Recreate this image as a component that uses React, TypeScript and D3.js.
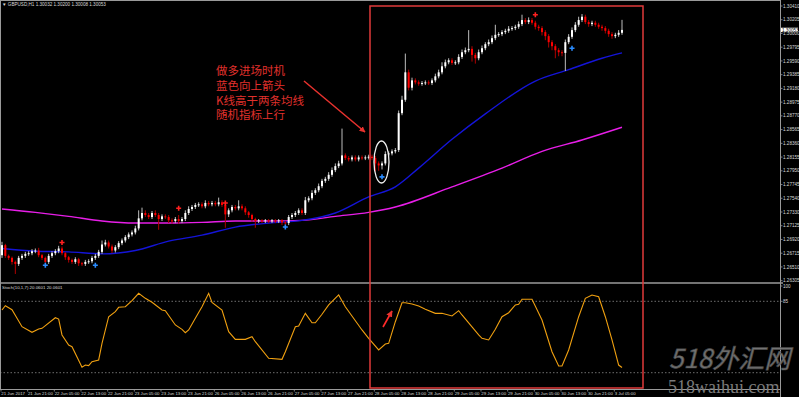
import React from "react";
import * as d3 from "d3";

const W = 799;
const H = 397;

// ---- price data (GBPUSD H1) ----
const firstOpen = 1.2669;
const closes = [
  1.2684, 1.2668, 1.2665, 1.2659, 1.2656, 1.2665, 1.2668, 1.2671, 1.2672, 1.2675,
  1.2676, 1.2669, 1.2665, 1.2659, 1.2668, 1.2672, 1.2675, 1.2679, 1.2672, 1.2666,
  1.2662, 1.2659, 1.2663, 1.2657, 1.2656, 1.2659, 1.266, 1.2665, 1.2668, 1.2674,
  1.2685, 1.2688, 1.2682, 1.2676, 1.2681, 1.2687, 1.2691, 1.2696, 1.27, 1.2703,
  1.2709, 1.2724, 1.2732, 1.2729, 1.2726, 1.2732, 1.2729, 1.2723, 1.2727, 1.2726,
  1.2721, 1.272, 1.2723, 1.272, 1.2723, 1.2732, 1.2738, 1.2741, 1.2744, 1.2745,
  1.2742, 1.2747, 1.2745, 1.2747, 1.2745, 1.2748, 1.2744, 1.273, 1.2736, 1.2741,
  1.2739, 1.2742, 1.2739, 1.2733, 1.2729, 1.2723, 1.272, 1.2721, 1.272, 1.2721,
  1.272, 1.2721, 1.272, 1.2721, 1.2718, 1.2717, 1.2726, 1.2729, 1.2732, 1.2736,
  1.2732, 1.2751, 1.2754, 1.2762, 1.2766, 1.2772, 1.278, 1.2783, 1.2789, 1.2796,
  1.2802, 1.2806, 1.2818, 1.2814, 1.2812, 1.2815, 1.2812, 1.2815, 1.2814, 1.2815,
  1.2816, 1.2814, 1.2806, 1.2803, 1.2806, 1.282, 1.2821, 1.2824, 1.2826, 1.2881,
  1.2901, 1.2942, 1.2919, 1.293, 1.2927, 1.2925, 1.2926, 1.2927, 1.2926, 1.293,
  1.2936, 1.2942, 1.2951, 1.2957, 1.296, 1.2956, 1.2957, 1.2965, 1.2972, 1.2975,
  1.2977, 1.2968, 1.2963, 1.2972, 1.2978, 1.2984, 1.2987, 1.2993, 1.2998, 1.2999,
  1.3002, 1.3004, 1.3007, 1.3008, 1.301, 1.3014, 1.302, 1.3017, 1.302, 1.3016,
  1.301, 1.3008, 1.3002, 1.2996, 1.2987, 1.2981, 1.2975, 1.2972, 1.2971, 1.2987,
  1.2995, 1.3005, 1.3013, 1.302, 1.3025, 1.3017, 1.3014, 1.3016, 1.3013, 1.301,
  1.3008, 1.3004, 1.2999, 1.2996, 1.2998, 1.3001, 1.30053,
];
const upperWickPips = [
  5, 2, 2, 2, 2, 3, 3, 3, 3, 3,
  3, 4, 2, 2, 3, 3, 3, 4, 3, 2,
  2, 2, 3, 2, 2, 3, 3, 3, 3, 3,
  6, 4, 3, 3, 3, 3, 3, 3, 3, 3,
  4, 12, 8, 4, 3, 3, 4, 3, 3, 3,
  3, 3, 3, 6, 3, 4, 4, 3, 3, 3,
  3, 4, 3, 3, 3, 7, 3, 3, 3, 3,
  3, 9, 3, 3, 2, 2, 2, 2, 2, 2,
  2, 2, 2, 2, 2, 2, 3, 3, 3, 3,
  3, 5, 3, 4, 3, 4, 3, 3, 4, 4,
  4, 4, 40, 3, 3, 3, 3, 3, 3, 3,
  3, 3, 3, 3, 3, 4, 3, 3, 3, 4,
  6, 28, 4, 4, 3, 3, 3, 3, 3, 3,
  4, 4, 6, 4, 3, 3, 3, 4, 4, 4,
  28, 4, 3, 4, 4, 3, 4, 4, 15, 3,
  3, 3, 4, 3, 3, 4, 8, 3, 4, 3,
  3, 3, 3, 3, 3, 3, 3, 3, 3, 4,
  4, 4, 4, 5, 4, 3, 3, 3, 3, 3,
  3, 3, 3, 3, 3, 4, 15,
];
const lowerWickPips = [
  4, 3, 3, 4, 15, 3, 3, 3, 3, 3,
  3, 3, 3, 4, 3, 3, 3, 3, 3, 4,
  4, 3, 3, 4, 3, 3, 3, 3, 3, 3,
  3, 3, 3, 4, 3, 3, 3, 3, 3, 3,
  3, 3, 3, 3, 3, 3, 3, 16, 3, 3,
  4, 4, 3, 4, 3, 3, 3, 3, 3, 3,
  3, 3, 3, 3, 3, 3, 3, 20, 4, 3,
  3, 3, 3, 4, 4, 4, 10, 3, 3, 3,
  3, 3, 3, 3, 4, 5, 3, 3, 3, 3,
  3, 3, 3, 3, 3, 3, 3, 3, 3, 3,
  3, 3, 3, 3, 3, 3, 3, 3, 3, 3,
  3, 3, 12, 8, 6, 3, 3, 3, 3, 3,
  3, 3, 4, 4, 3, 3, 3, 3, 3, 3,
  3, 3, 3, 3, 3, 3, 3, 3, 3, 3,
  3, 10, 8, 3, 3, 3, 3, 3, 3, 3,
  3, 3, 3, 3, 3, 3, 3, 3, 3, 3,
  4, 4, 5, 6, 8, 6, 12, 6, 5, 27,
  3, 3, 3, 3, 3, 3, 4, 3, 3, 3,
  4, 4, 4, 4, 3, 3, 3,
];

// ---- moving averages (sampled at bars) ----
const blueMaBars = [0, 10, 20, 30, 40, 50, 60, 70, 80, 90, 100, 110, 118, 125, 135, 145, 160, 170, 180, 186];
const blueMaValues = [1.2679, 1.2675, 1.2674, 1.2671, 1.2676, 1.269, 1.2699, 1.2711, 1.2717, 1.2721, 1.2732, 1.2756, 1.2771, 1.2799, 1.2842, 1.288, 1.2929, 1.2946, 1.2963, 1.2971];
const magentaMaBars = [0, 10, 20, 30, 40, 50, 60, 70, 80, 90, 100, 110, 118, 135, 150, 162, 174, 186];
const magentaMaValues = [1.2738, 1.2733, 1.2727, 1.272, 1.2717, 1.2717, 1.2718, 1.272, 1.272, 1.2721, 1.2727, 1.2733, 1.2741, 1.2771, 1.2799, 1.2824, 1.2841, 1.286];

// ---- stochastic (10,1,7) ----
const stochBars = [0, 1, 3, 6, 9, 11, 12, 16, 17, 18, 20, 21, 24, 25, 26, 27, 29, 30, 32, 34, 35, 37, 39, 41, 43, 45, 48, 49, 52, 54, 55, 56, 58, 60, 62, 63, 66, 68, 70, 73, 75, 76, 80, 84, 85, 88, 89, 91, 93, 94, 96, 98, 101, 103, 108, 110, 113, 115, 116, 118, 120, 121, 123, 125, 127, 130, 132, 135, 137, 138, 143, 144, 146, 148, 150, 152, 154, 155, 156, 159, 162, 165, 167, 168, 170, 173, 175, 177, 179, 181, 183, 185, 186];
const stochValues = [76.5, 80.7, 76.8, 60.1, 54.6, 57.8, 58.5, 68.9, 67.6, 52, 42.2, 40.5, 20.3, 22.5, 21.9, 25.8, 27.5, 43.8, 69.9, 74.8, 79.1, 79.7, 85.6, 92.8, 87.9, 84, 76.5, 75.8, 61.8, 57.5, 54.2, 56.9, 68.3, 79.7, 92.8, 84, 76.5, 55.2, 47.7, 47.7, 50.3, 45.4, 29.1, 28.1, 35.6, 60.1, 60.8, 73.2, 64, 64, 72.3, 81.4, 91.2, 79.7, 56.9, 48.7, 37.3, 43.1, 43.8, 65, 83.6, 83.6, 82.4, 80.4, 77.2, 73.2, 73.2, 70.6, 75.8, 71.6, 52, 48.7, 47.1, 57.5, 69.9, 73.8, 81.4, 82.1, 87, 87, 66.7, 35.6, 21.6, 21.6, 37.3, 69.9, 87.9, 91.2, 89.5, 69.9, 47.1, 22.5, 20.0601];
const stochLevels = [85, 15];
const stochAxisLabels = [100, 85];

// ---- signals ----
const redSignalBars = [18, 53, 67, 160];
const redSignalPrices = [1.2688, 1.2739, 1.2747, 1.3028];
const blueSignalBars = [13, 28, 85, 114, 171];
const blueSignalPrices = [1.2654, 1.2654, 1.2711, 1.2786, 1.2978];

// ---- axis labels ----
const priceTickValues = [1.3041, 1.30205, 1.3, 1.29795, 1.2959, 1.29385, 1.2918, 1.28975, 1.2877, 1.28565, 1.2836, 1.28155, 1.2795, 1.27745, 1.2754, 1.27335, 1.2713, 1.26925, 1.2672, 1.26515, 1.2631];
const priceTickLabels = ["1.30410", "1.30205", "1.30000", "1.29795", "1.29590", "1.29385", "1.29180", "1.28975", "1.28770", "1.28565", "1.28360", "1.28155", "1.27950", "1.27745", "1.27540", "1.27330", "1.27125", "1.26920", "1.26715", "1.26510", "1.26305"];
const timeLabels = ["21 Jun 2017", "21 Jun 21:00", "22 Jun 05:00", "22 Jun 13:00", "22 Jun 21:00", "23 Jun 05:00", "23 Jun 13:00", "23 Jun 21:00", "26 Jun 05:00", "26 Jun 13:00", "26 Jun 21:00", "27 Jun 05:00", "27 Jun 13:00", "27 Jun 21:00", "28 Jun 05:00", "28 Jun 13:00", "28 Jun 21:00", "29 Jun 05:00", "29 Jun 13:00", "29 Jun 21:00", "30 Jun 05:00", "30 Jun 13:00", "30 Jun 21:00", "3 Jul 05:00"];
const barsPerTimeLabel = 8;
const titleText = "▼ GBPUSD,H1  1.30032 1.30200 1.30008 1.30053";
const stochTitle = "Stoch(10,1,7) 20.0601 20.0601";
const annotationLines = ["做多进场时机", "蓝色向上箭头", "K线高于两条均线", "随机指标上行"];

export default function App() {
  const plotRight = 780;
  const mainTop = 0;
  const mainBottom = 283;
  const stochTop = 284;
  const axisY = 389;

  const x = d3.scaleLinear().domain([0, 186]).range([2, 622]);
  const y = d3.scaleLinear().domain([1.26305, 1.3041]).range([281, 6]);
  const ys = d3.scaleLinear().domain([0, 100]).range([388, 286]);
  const pip = 0.0001;

  const candles = closes.map((c, i) => {
    const o = i === 0 ? firstOpen : closes[i - 1];
    const h = Math.max(o, c) + upperWickPips[i] * pip;
    const l = Math.min(o, c) - lowerWickPips[i] * pip;
    return { i, o, c, h, l };
  });

  const maLine = d3
    .line<[number, number]>()
    .x((d) => x(d[0]))
    .y((d) => y(d[1]))
    .curve(d3.curveMonotoneX);
  const bluePath = maLine(blueMaBars.map((b, k) => [b, blueMaValues[k]]) as [number, number][]) || "";
  const magentaPath = maLine(magentaMaBars.map((b, k) => [b, magentaMaValues[k]]) as [number, number][]) || "";

  const stochLine = d3
    .line<[number, number]>()
    .x((d) => x(d[0]))
    .y((d) => ys(d[1]));
  const stochPath = stochLine(stochBars.map((b, k) => [b, stochValues[k]]) as [number, number][]) || "";

  const lastClose = closes[closes.length - 1];
  const tinyFont = "'Liberation Sans', Arial, sans-serif";
  const labelColor = "#d8d8d8";

  const bodyW = 2;

  return (
    <div style={{ position: "fixed", left: 0, top: 0, width: W, height: H, background: "#000" }}>
      <svg width={W} height={H} style={{ display: "block" }}>
        <defs>
          <clipPath id="mainClip">
            <rect x={0} y={mainTop} width={plotRight} height={mainBottom - mainTop} />
          </clipPath>
          <clipPath id="stochClip">
            <rect x={0} y={stochTop} width={plotRight} height={axisY - stochTop} />
          </clipPath>
          <marker id="redHead" viewBox="0 0 10 10" refX="9" refY="5" markerWidth="4" markerHeight="4" orient="auto">
            <path d="M0,0 L10,5 L0,10 z" fill="#e8322e" />
          </marker>
        </defs>
        <rect x={0} y={0} width={W} height={H} fill="#000" />

        {/* main panel */}
        <g clipPath="url(#mainClip)">
          <path d={magentaPath} fill="none" stroke="#e81ee8" strokeWidth={1.4} />
          <path d={bluePath} fill="none" stroke="#1414d8" strokeWidth={1.4} />
          {candles.map((d) => {
            const up = d.c >= d.o;
            const cx = x(d.i);
            const top = y(Math.max(d.o, d.c));
            const bot = y(Math.min(d.o, d.c));
            const doji = Math.abs(d.c - d.o) < 0.00006;
            return (
              <g key={d.i}>
                <line x1={cx} x2={cx} y1={y(d.h)} y2={y(d.l)} stroke={up ? "#bdbdbd" : "#b00000"} strokeWidth={1} />
                {doji ? (
                  <line x1={cx - 1.5} x2={cx + 1.5} y1={top} y2={top} stroke="#2fa02f" strokeWidth={1} />
                ) : (
                  <rect
                    x={cx - bodyW / 2}
                    y={top}
                    width={bodyW}
                    height={Math.max(1, bot - top)}
                    fill={up ? "#ffffff" : "#ff0000"}
                  />
                )}
              </g>
            );
          })}
          {redSignalBars.map((b, k) => {
            const cx = x(b);
            const cy = y(redSignalPrices[k]);
            return (
              <path key={"r" + k} d={`M${cx - 2.5},${cy}H${cx + 2.5}M${cx},${cy - 2.5}V${cy + 2.5}`} stroke="#ff2020" strokeWidth={1.6} />
            );
          })}
          {blueSignalBars.map((b, k) => {
            const cx = x(b);
            const cy = y(blueSignalPrices[k]);
            return (
              <path key={"b" + k} d={`M${cx - 2.5},${cy}H${cx + 2.5}M${cx},${cy - 2.5}V${cy + 2.5}`} stroke="#2a8cff" strokeWidth={1.6} />
            );
          })}
        </g>

        {/* annotation */}
        {annotationLines.map((t, k) => (
          <text
            key={t}
            x={216}
            y={75 + k * 14.8}
            fill="#e0302c"
            fontSize={11.5}
            fontFamily="'Noto Sans CJK SC', sans-serif"
          >
            {t}
          </text>
        ))}
        <line x1={304} y1={81} x2={365} y2={132} stroke="#e8322e" strokeWidth={1.5} markerEnd="url(#redHead)" />
        <ellipse cx={381.5} cy={162} rx={7.5} ry={21} fill="none" stroke="#f0f0f0" strokeWidth={1.3} />

        {/* title */}
        <text x={2} y={6} fill={labelColor} fontSize={4.6} fontFamily={tinyFont}>
          {titleText}
        </text>

        {/* panel separator */}
        <line x1={0} x2={plotRight + 3} y1={283} y2={283} stroke="#9a9a9a" strokeWidth={1.5} />

        {/* stochastic panel */}
        <g clipPath="url(#stochClip)">
          {stochLevels.map((lv) => (
            <line key={lv} x1={0} x2={plotRight} y1={ys(lv)} y2={ys(lv)} stroke="#8a8a8a" strokeWidth={0.8} strokeDasharray="1.5,2" />
          ))}
          <path d={stochPath} fill="none" stroke="#f0a010" strokeWidth={1.1} />
        </g>
        <text x={2} y={289} fill={labelColor} fontSize={4.4} fontFamily={tinyFont}>
          {stochTitle}
        </text>
        <line x1={383} y1={327} x2={392} y2={311} stroke="#ff2a2a" strokeWidth={1.6} markerEnd="url(#redHead)" />

        {/* red highlight box */}
        <rect x={370} y={6} width={273} height={382} fill="none" stroke="#e03a3a" strokeWidth={1.5} />

        {/* frame */}
        <line x1={0.5} x2={0.5} y1={0} y2={axisY} stroke="#9a9a9a" strokeWidth={1} />
        <line x1={0} x2={plotRight} y1={0.5} y2={0.5} stroke="#9a9a9a" strokeWidth={1} />
        <line x1={plotRight + 0.5} x2={plotRight + 0.5} y1={0} y2={H} stroke="#9a9a9a" strokeWidth={1} />
        <line x1={0} x2={plotRight} y1={axisY + 0.5} y2={axisY + 0.5} stroke="#9a9a9a" strokeWidth={1} />

        {/* price axis */}
        {priceTickValues.map((v, k) => (
          <g key={priceTickLabels[k]}>
            <line x1={plotRight} x2={plotRight + 2.5} y1={y(v)} y2={y(v)} stroke="#9a9a9a" strokeWidth={0.8} />
            <text x={plotRight + 3} y={y(v) + 1.6} fill={labelColor} fontSize={4.6} fontFamily={tinyFont}>
              {priceTickLabels[k]}
            </text>
          </g>
        ))}
        <rect x={plotRight + 1} y={y(lastClose) - 2.2} width={17} height={4.4} fill="#ffffff" />
        <text x={plotRight + 2} y={y(lastClose) + 1.6} fill="#000" fontSize={4.6} fontFamily={tinyFont}>
          {lastClose.toFixed(5)}
        </text>

        {/* stoch axis */}
        {stochAxisLabels.map((v) => (
          <g key={v}>
            <line x1={plotRight} x2={plotRight + 2.5} y1={ys(v)} y2={ys(v)} stroke="#9a9a9a" strokeWidth={0.8} />
            <text x={plotRight + 3} y={ys(v) + 1.6} fill={labelColor} fontSize={4.6} fontFamily={tinyFont}>
              {v}
            </text>
          </g>
        ))}

        {/* time axis */}
        {timeLabels.map((t, k) => {
          const tx = x(k * barsPerTimeLabel);
          return (
            <g key={t}>
              <line x1={tx - 1} x2={tx - 1} y1={axisY} y2={axisY + 2.5} stroke="#9a9a9a" strokeWidth={0.8} />
              <text x={tx - 0.7} y={394.5} fill={labelColor} fontSize={4.3} fontFamily={tinyFont}>
                {t}
              </text>
            </g>
          );
        })}

        {/* watermark */}
        <text
          x={669}
          y={368}
          fontSize={26}
          fontStyle="italic"
          fontFamily="'Noto Sans CJK SC', sans-serif"
          fill="#808080"
          stroke="#555"
          strokeWidth={0.7}
          opacity={0.9}
        >
          518外汇网
        </text>
        <text x={668} y={392.5} fontSize={18} fontFamily="'Liberation Serif', serif" fill="#7a7a7a">
          518waihui.com
        </text>
      </svg>
    </div>
  );
}
